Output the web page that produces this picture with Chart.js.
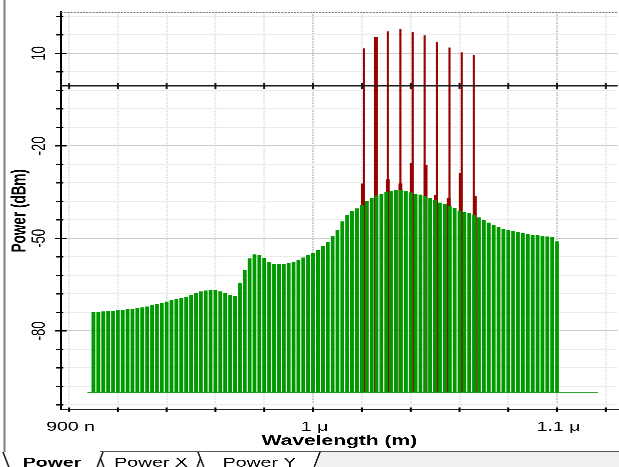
<!DOCTYPE html>
<html>
<head>
<meta charset="utf-8">
<script src="https://cdn.jsdelivr.net/npm/chart.js@4.4.1/dist/chart.umd.min.js"></script>
<style>
html,body{margin:0;padding:0;background:#fff;overflow:hidden;width:619px;height:467px}
#wrap{position:absolute;left:0;top:0;width:413px;height:467px;transform:scaleX(1.498789);transform-origin:0 0}
canvas{display:block}
</style>
</head>
<body>
<div id="wrap"><canvas id="c"></canvas></div>
<script>
// ---------- data ----------
const wavelengthsNm = [910,912,914,916,918,920,922,924,926,928,930,932,934,936,938,940,942,944,946,948,
  950,952,954,956,958,960,962,964,966,968,970,972,974,976,978,980,982,984,986,988,
  990,992,994,996,998,1000,1002,1004,1006,1008,1010,1012,1014,1016,1018,1020,1022,1024,1026,1028,
  1030,1032,1034,1036,1038,1040,1042,1044,1046,1048,1050,1052,1054,1056,1058,1060,1062,1064,1066,1068,
  1070,1072,1074,1076,1078,1080,1082,1084,1086,1088,1090,1092,1094,1096,1098,1100];
const noisePowerDbm = [-73.8,-73.8,-73.7,-73.6,-73.5,-73.3,-73.2,-73.0,-72.8,-72.6,
  -72.4,-72.1,-71.7,-71.3,-70.9,-70.5,-70.1,-69.7,-69.3,-68.9,
  -68.4,-67.8,-67.2,-66.9,-66.7,-66.8,-67.2,-67.8,-68.4,-68.6,
  -64.5,-60.2,-56.5,-55.2,-55.4,-56.4,-57.6,-58.2,-58.4,-58.4,
  -58.1,-57.6,-56.9,-56.2,-55.4,-54.7,-53.7,-52.5,-51.2,-49.2,
  -47.4,-44.5,-42.4,-41.2,-40.3,-39.2,-37.9,-36.9,-36.1,-35.5,
  -35.0,-34.6,-34.4,-34.4,-34.7,-35.1,-35.5,-35.8,-36.3,-36.8,
  -37.6,-38.4,-38.9,-39.4,-40.2,-41.0,-41.4,-41.9,-42.5,-43.2,
  -44.0,-44.9,-45.7,-46.4,-46.9,-47.3,-47.7,-48.0,-48.3,-48.6,
  -48.8,-49.0,-49.2,-49.4,-49.6,-51.0];
const signalWavelengthsNm = [1020.8,1025.7,1030.6,1035.8,1040.8,1045.7,1050.8,1055.9,1060.9,1065.9];
const signalPeakDbm       = [11.6,15.2,17.1,17.8,16.8,15.8,13.6,11.9,10.3,9.4];
const shoulderWavelengthsNm = [1020.4,1025.7,1030.6,1035.8,1040.4,1046.1,1050.4,1055.6,1060.5,1066.3];
const shoulderPowerDbm      = [-32.2,15.2,-30.9,-32.2,-25.6,-26.2,-36.0,-37.0,-28.9,-36.3];
const noiseFloorDbm = -100;
const floorRangeNm = [907.5,1116.8];
const refLevelDbm = -0.5;

const xTicks = [900,920,940,960,980,1000,1020,1040,1060,1080,1100,1120];
const xTickLabels = {900:'900 n',1000:'1 \u03bc',1100:'1.1 \u03bc'};
const yTicks = [-104,-98,-92,-86,-80,-74,-68,-62,-56,-50,-44,-38,-32,-26,-20,-14,-8,-2,4,10,16,22];
const yTickLabels = [10,-20,-50,-80];
const xRange = [896.7,1124.9];
const yRange = [-105.5,23.4];

// ---------- drawing ----------
const S = 619/413;
const X = v => v / S;
const FONT = "'Liberation Sans', Arial, sans-serif";

const deco = {
  id:'deco',
  afterDraw(chart){
    const {ctx, chartArea:a, scales:{x, y}} = chart;
    ctx.save();
    // left window frame
    ctx.strokeStyle='#7d7d7d'; ctx.lineWidth=X(2);
    ctx.beginPath(); ctx.moveTo(X(4.5),0); ctx.lineTo(X(4.5),452); ctx.stroke();
    // top dashed border
    ctx.strokeStyle='#7a7a7a'; ctx.lineWidth=1.5; ctx.setLineDash([1.4,0.7]);
    ctx.beginPath(); ctx.moveTo(a.left,a.top+0.5); ctx.lineTo(a.right,a.top+0.5); ctx.stroke();
    ctx.setLineDash([]);
    // y ticks
    ctx.strokeStyle='#000'; ctx.lineWidth=1.3;
    y.ticks.forEach(t=>{
      const py=y.getPixelForValue(t.value);
      const major=yTickLabels.includes(t.value);
      const l=major?4:3.3, r=major?3.8:1.5;
      ctx.beginPath(); ctx.moveTo(a.left-l,py); ctx.lineTo(a.left+r,py); ctx.stroke();
    });
    // x ticks
    ctx.lineWidth=X(2);
    x.ticks.forEach(t=>{
      const px=x.getPixelForValue(t.value);
      ctx.beginPath(); ctx.moveTo(px,a.bottom-2); ctx.lineTo(px,a.bottom+2.5); ctx.stroke();
    });
    // y tick labels (rotated)
    ctx.fillStyle='#000'; ctx.font=`13px ${FONT}`; ctx.textAlign='center'; ctx.textBaseline='middle';
    yTickLabels.forEach(v=>{
      const py=y.getPixelForValue(v);
      ctx.save(); ctx.translate(X(39.5),py); ctx.rotate(-Math.PI/2); ctx.fillText(String(v),0,0); ctx.restore();
    });
    // y title
    ctx.font=`bold 13.5px ${FONT}`;
    ctx.save(); ctx.translate(X(20),(a.top+a.bottom)/2); ctx.rotate(-Math.PI/2); ctx.fillText('Power (dBm)',0,0); ctx.restore();
    // x tick labels
    ctx.font=`13px ${FONT}`;
    Object.keys(xTickLabels).forEach(k=>{
      ctx.fillText(xTickLabels[k], x.getPixelForValue(Number(k))+X(1.5), 427);
    });
    // x title
    ctx.font=`bold 14px ${FONT}`;
    ctx.fillText('Wavelength (m)', (a.left+a.right)/2, 441);
    // tab strip
    ctx.fillStyle='#f0f0f0'; ctx.fillRect(X(6),452,X(619),15);
    const tabs=[{t:'Power X',xl:98,xr:203,sel:false,cx:151},{t:'Power Y',xl:198,xr:320,sel:false,cx:259.5},{t:'Power',xl:3,xr:103,sel:true,cx:52}];
    ctx.strokeStyle='#555'; ctx.lineWidth=1;
    ctx.beginPath(); ctx.moveTo(X(100),451.5); ctx.lineTo(X(619),451.5); ctx.stroke();
    tabs.forEach(tb=>{
      ctx.fillStyle='#fff';
      ctx.beginPath(); ctx.moveTo(X(tb.xl),452); ctx.lineTo(X(tb.xl+6),467.5); ctx.lineTo(X(tb.xr-6),467.5); ctx.lineTo(X(tb.xr),452); ctx.closePath(); ctx.fill();
      ctx.strokeStyle='#222'; ctx.lineWidth=X(1.6);
      ctx.beginPath(); ctx.moveTo(X(tb.xl),452); ctx.lineTo(X(tb.xl+6),467.5); ctx.stroke();
      ctx.beginPath(); ctx.moveTo(X(tb.xr-6),467.5); ctx.lineTo(X(tb.xr),452); ctx.stroke();
      ctx.fillStyle='#000'; ctx.textBaseline='alphabetic';
      ctx.font=(tb.sel?'bold ':'')+`13px ${FONT}`;
      ctx.fillText(tb.t, X(tb.cx), 466.5);
    });
    ctx.restore();
  }
};

const greenData = wavelengthsNm.map((w,i)=>({x:w, y:[noiseFloorDbm, noisePowerDbm[i]]}));
const peakData = signalWavelengthsNm.map((w,i)=>({x:w, y:[noiseFloorDbm, signalPeakDbm[i]]}));
const shoulderData = shoulderWavelengthsNm.map((w,i)=>({x:w, y:[noiseFloorDbm, shoulderPowerDbm[i]]}));
const refData = [xRange[0], ...xTicks, xRange[1]].map(v=>({x:v, y:refLevelDbm}));
const floorData = floorRangeNm.map(v=>({x:v, y:noiseFloorDbm}));

new Chart(document.getElementById('c'), {
  type:'bar',
  data:{datasets:[
    {type:'line', data:refData, borderColor:'#1a1a1a', borderWidth:1.6, fill:false, tension:0,
     pointStyle:'line', pointRotation:90, pointBorderColor:'#1a1a1a', pointBorderWidth:X(2),
     pointRadius: c => (c.raw && xTicks.includes(c.raw.x)) ? 3 : 0, order:0},
    {type:'bar', data:greenData, backgroundColor:'#009900', borderWidth:0, barThickness:2.55, grouped:false, inflateAmount:0, order:1},
    {type:'line', data:floorData, borderColor:'#2ea52e', borderWidth:1, pointRadius:0, fill:false, order:2},
    {type:'bar', data:peakData, backgroundColor:'#990000', borderWidth:0, barThickness:1.4, grouped:false, inflateAmount:0, order:3},
    {type:'bar', data:shoulderData, backgroundColor:'#990000', borderWidth:0, barThickness:2.6, grouped:false, inflateAmount:0, order:4}
  ]},
  options:{
    responsive:true, maintainAspectRatio:false, animation:false, devicePixelRatio:3, events:[],
    layout:{padding:{top:12,left:0,right:0,bottom:0}},
    plugins:{legend:{display:false}, tooltip:{enabled:false}, title:{display:false}},
    scales:{
      x:{type:'linear', min:xRange[0], max:xRange[1], offset:false,
         afterBuildTicks:s=>{ s.ticks = xTicks.map(v=>({value:v})); },
         ticks:{display:false},
         grid:{offset:false, drawTicks:false, lineWidth:X(2), color:c=>(c.tick && (c.tick.value===1000||c.tick.value===1100))?'#cbcbcb':'#e7e7e7'},
         border:{display:true, color:'#222', width:1.6, dash:[1,0.6]},
         afterFit:s=>{ s.height=57.5; s.paddingLeft=0; s.paddingRight=0; }},
      y:{type:'linear', min:yRange[0], max:yRange[1],
         afterBuildTicks:s=>{ s.ticks = yTicks.map(v=>({value:v})); },
         ticks:{display:false},
         grid:{drawTicks:false, lineWidth:1, color:c=>(c.tick && yTickLabels.includes(c.tick.value))?'#cdcdcd':'#ebebeb'},
         border:{display:true, color:'#000', width:X(2)},
         afterFit:s=>{ s.width=40.7; s.paddingTop=0; s.paddingBottom=0; }}
    }
  },
  plugins:[deco]
});
</script>
</body>
</html>
